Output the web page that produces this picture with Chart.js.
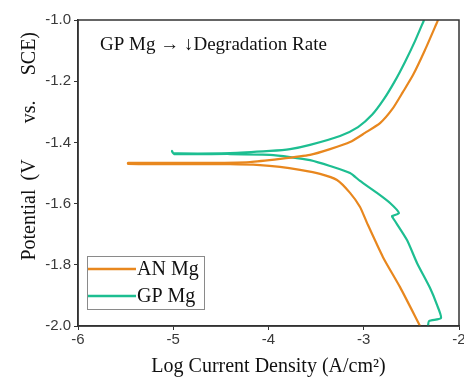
<!DOCTYPE html>
<html>
<head>
<meta charset="utf-8">
<script src="https://cdn.jsdelivr.net/npm/chart.js@4/dist/chart.umd.min.js"></script>
<style>
    html, body { margin: 0; padding: 0; background: #fff; }
    #wrap { width: 464px; height: 379px; }
</style>
</head>
<body>
<div id="wrap"><canvas id="chartTafel"></canvas></div>
<script>
    // log current density (x) and potential (y), in scan order
    const anLogI = [-2.409, -2.619, -2.798, -2.966, -3.039, -3.144, -3.281, -3.459, -3.669, -3.879, -4.089, -4.404, -4.929, -5.475,
        -5.475, -4.719, -4.194, -3.879, -3.564, -3.354, -3.144, -2.987, -2.829, -2.693, -2.588, -2.483, -2.357, -2.220];
    const anPotential = [-2.000, -1.873, -1.775, -1.663, -1.611, -1.565, -1.523, -1.503, -1.490, -1.480, -1.474, -1.471, -1.471, -1.470,
        -1.467, -1.467, -1.464, -1.454, -1.441, -1.422, -1.399, -1.369, -1.337, -1.288, -1.235, -1.180, -1.098, -1.000];

    const gpLogI = [-2.325, -2.315, -2.189, -2.231, -2.304, -2.441, -2.546, -2.693, -2.703, -2.630, -2.724, -2.861, -3.039, -3.144,
        -3.354, -3.564, -3.774, -3.984, -4.404, -4.992, -5.013,
        -5.003, -4.404, -3.984, -3.774, -3.564, -3.249, -3.060, -2.913, -2.787, -2.672, -2.567, -2.462, -2.367];
    const gpPotential = [-2.000, -1.984, -1.974, -1.931, -1.876, -1.794, -1.719, -1.647, -1.641, -1.631, -1.598, -1.565, -1.526, -1.500,
        -1.477, -1.458, -1.448, -1.441, -1.438, -1.438, -1.428,
        -1.435, -1.435, -1.428, -1.422, -1.408, -1.379, -1.350, -1.310, -1.258, -1.199, -1.137, -1.069, -1.000];

    const seriesNames = ['AN Mg', 'GP Mg'];
    const xTicks = [-6, -5, -4, -3, -2];
    const yTicks = [-2.0, -1.8, -1.6, -1.4, -1.2, -1.0];
    const note = 'GP Mg \u2192 \u2193Degradation Rate';
    // the y title is set loosely in the source, so it is drawn word by word
    const yTitleWords = ['Potential', '(V', 'vs.', 'SCE)'];

    const palette = {
        an: '#e8871e',
        gp: '#1dbe91',
        axis: '#333333',
        tick: '#3a3a3a'
    };
    const serif = '"Liberation Serif", "Times New Roman", serif';
    const sans = '"Liberation Sans", Arial, sans-serif';

    const toPoints = (xs, ys) => xs.map((x, i) => ({ x, y: ys[i] }));

    // frame round the plot, y title, note and the legend box in the lower left corner
    const decorations = {
        id: 'decorations',
        afterDraw(chart) {
            const { ctx, chartArea: a } = chart;
            const h = a.bottom - a.top;
            ctx.save();
            ctx.strokeStyle = palette.axis;
            ctx.lineWidth = 1.5;
            ctx.strokeRect(a.left, a.top, a.right - a.left, h);

            // word centres as fractions of the plot height, measured from the bottom
            const wordPos = [0.33, 0.51, 0.70, 0.89];
            ctx.fillStyle = '#111';
            ctx.font = '20px ' + serif;
            ctx.textAlign = 'center';
            ctx.textBaseline = 'middle';
            yTitleWords.forEach((word, i) => {
                ctx.save();
                ctx.translate(30, a.bottom - wordPos[i] * h);
                ctx.rotate(-Math.PI / 2);
                ctx.fillText(word, 0, 0);
                ctx.restore();
            });

            ctx.textAlign = 'left';
            ctx.font = '19px ' + serif;
            ctx.fillText(note, a.left + 22, a.top + 25);

            const boxL = a.left + 9;
            const boxT = a.bottom - 70;
            const boxW = 117;
            const boxH = 53;
            ctx.strokeStyle = '#8a8a8a';
            ctx.lineWidth = 1;
            ctx.strokeRect(boxL + 0.5, boxT + 0.5, boxW, boxH);
            ctx.font = '20px ' + serif;
            chart.data.datasets.forEach((ds, i) => {
                const y = boxT + 13 + i * 27;
                ctx.strokeStyle = ds.borderColor;
                ctx.lineWidth = 2.5;
                ctx.beginPath();
                ctx.moveTo(boxL + 1, y);
                ctx.lineTo(boxL + 49, y);
                ctx.stroke();
                ctx.fillStyle = '#111';
                ctx.fillText(ds.label, boxL + 50, y + 1);
            });
            ctx.restore();
        }
    };

    new Chart(document.getElementById('chartTafel'), {
        type: 'scatter',
        data: {
            datasets: [
                {
                    label: seriesNames[0],
                    data: toPoints(anLogI, anPotential),
                    showLine: true,
                    borderColor: palette.an,
                    borderWidth: 2.2,
                    pointRadius: 0,
                    tension: 0.2
                },
                {
                    label: seriesNames[1],
                    data: toPoints(gpLogI, gpPotential),
                    showLine: true,
                    borderColor: palette.gp,
                    borderWidth: 2.2,
                    pointRadius: 0,
                    tension: 0.2
                }
            ]
        },
        options: {
            responsive: true,
            maintainAspectRatio: false,
            animation: false,
            layout: { padding: { top: 20, right: 5, left: 0, bottom: 0 } },
            plugins: {
                legend: { display: false },
                tooltip: { enabled: false }
            },
            scales: {
                x: {
                    type: 'linear',
                    min: xTicks[0],
                    max: xTicks[xTicks.length - 1],
                    afterBuildTicks(scale) {
                        scale.ticks = xTicks.map((value) => ({ value }));
                    },
                    afterFit(scale) {
                        scale.height = 53;
                        scale.paddingLeft = 0;
                        scale.paddingRight = 0;
                    },
                    ticks: {
                        color: palette.tick,
                        font: { family: sans, size: 15 },
                        padding: 1,
                        maxRotation: 0,
                        autoSkip: false,
                        callback: (v) => String(v)
                    },
                    grid: { drawOnChartArea: false, tickLength: 4, tickColor: palette.axis },
                    border: { color: palette.axis, width: 1.5 },
                    title: {
                        display: true,
                        text: 'Log Current Density (A/cm\u00b2)',
                        color: '#111',
                        font: { family: serif, size: 20 },
                        padding: { top: 0, bottom: 0 }
                    }
                },
                y: {
                    type: 'linear',
                    min: yTicks[0],
                    max: yTicks[yTicks.length - 1],
                    afterBuildTicks(scale) {
                        scale.ticks = yTicks.map((value) => ({ value }));
                    },
                    afterFit(scale) {
                        scale.width = 78;
                        scale.paddingTop = 0;
                        scale.paddingBottom = 0;
                    },
                    ticks: {
                        color: palette.tick,
                        font: { family: sans, size: 15 },
                        padding: 3,
                        autoSkip: false,
                        callback: (v) => Number(v).toFixed(1)
                    },
                    grid: { drawOnChartArea: false, tickLength: 4, tickColor: palette.axis },
                    border: { color: palette.axis, width: 1.5 },
                    title: { display: false }
                }
            }
        },
        plugins: [decorations]
    });
</script>
</body>
</html>
